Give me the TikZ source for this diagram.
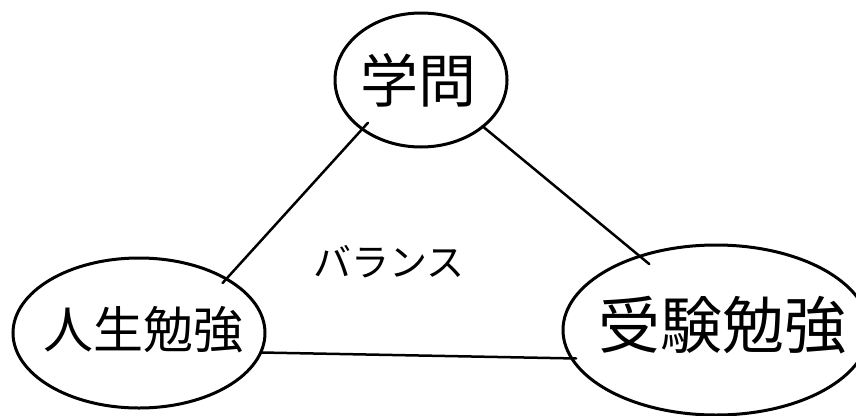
\documentclass[tikz,border=0pt]{standalone}
\usepackage{fontspec}
\newfontfamily\jpfont{Noto Sans CJK JP}
\usetikzlibrary{shapes.geometric}

\tikzset{
  bubble/.style={draw,ellipse,line width=3pt,inner sep=0pt},
  link/.style={line width=2.5pt,line cap=round},
  word/.style={inner sep=0pt},
}

\begin{document}
\begin{tikzpicture}[x=1pt,y=1pt]
  \path[use as bounding box,fill=white] (0,0) rectangle (856,-415);
  % the three fields of study
  \node[bubble,minimum width=172pt,minimum height=134pt] (gaku) at (421,-80) {};
  \node[word,font={\jpfont\fontsize{58}{60}\selectfont}] (gakutext) at (418,-80) {学問};
  \node[bubble,minimum width=252pt,minimum height=150pt] (jinsei) at (139,-333) {};
  \node[word,font={\jpfont\fontsize{50}{52}\selectfont}] (jinseitext) at (143,-330) {人生勉強};
  \node[bubble,minimum width=306pt,minimum height=170pt] (juken) at (716,-330) {};
  \node[word,font={\jpfont\fontsize{62}{64}\selectfont}] (jukentext) at (722,-325) {受験勉強};
  % balance in the middle
  \node[word,font={\jpfont\fontsize{38}{40}\selectfont}] (balance) at (389,-262) {バランス};
  % connecting lines
  \draw[link,shorten <=-10pt,shorten >=-7pt] (gaku.220) -- (jinsei.32);
  \draw[link,shorten <=-2pt,shorten >=-14pt] (gaku.-37) -- (juken.136);
  \draw[link,shorten <=-2pt,shorten >=-6pt] (jinsei.-9) -- (juken.191);
\end{tikzpicture}
\end{document}
